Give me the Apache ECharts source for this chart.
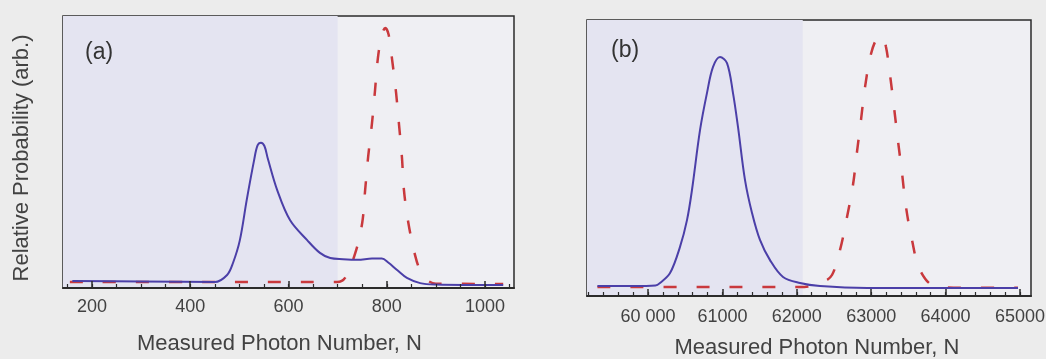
<!DOCTYPE html>
<html>
<head>
<meta charset="utf-8">
<script src="https://cdn.jsdelivr.net/npm/echarts@6/dist/echarts.min.js"></script>
<style>
  html, body { margin: 0; padding: 0; background: #ececec; }
  #chart { width: 1046px; height: 359px; }
</style>
</head>
<body>
<div id="chart"></div>
<script>
// Panel (a): photon-number distributions, N up to ~1000
const aBlueN = [160, 300, 450, 475, 487, 501, 515, 530, 537, 544, 551, 558, 577, 603, 638, 664, 685, 711, 741, 770, 790, 803, 821, 841, 868, 900, 1037];
const aBlueP = [2.6, 2.4, 2.2, 4.8, 9.2, 17.6, 32.4, 47, 52.4, 53.4, 52.2, 47.5, 36, 25, 17.6, 12.9, 11.0, 10.6, 10.4, 10.8, 10.8, 9.4, 6.6, 3.7, 1.8, 1.3, 1.1];
const aRedN = [155, 400, 699, 715, 736, 750, 756, 762, 770, 776, 782, 790, 797, 804, 811, 819, 825, 831, 835, 844, 858, 870, 882, 900, 1037];
const aRedP = [2.2, 2.2, 2.2, 3.7, 12.9, 23.9, 36, 48, 60.7, 72.4, 84.6, 93, 95.6, 93, 83.8, 71.7, 60, 47.8, 36, 23.9, 11.8, 5.5, 2.9, 1.6, 1.5];

// Panel (b): photon-number distributions around N ~ 60 000
const bBlueN = [59320, 59800, 60100, 60161, 60296, 60430, 60524, 60591, 60699, 60793, 60874, 60968, 61062, 61142, 61210, 61304, 61398, 61505, 61640, 61815, 62043, 62312, 62944, 64000, 64973];
const bBlueP = [3.6, 3.6, 3.8, 4.7, 8.3, 17.8, 27.5, 38.4, 60.1, 73.6, 83.0, 86.6, 84.4, 73.6, 61.2, 42.0, 30.1, 20.3, 13.0, 6.9, 4.7, 3.6, 2.9, 2.9, 2.9];
const bRedN = [59320, 60500, 62100, 62352, 62473, 62581, 62675, 62755, 62809, 62863, 62917, 62997, 63080, 63145, 63199, 63253, 63306, 63360, 63414, 63468, 63548, 63656, 63858, 64300, 64973];
const bRedP = [3.3, 3.3, 3.3, 5.1, 7.6, 16.7, 28.6, 40.2, 52.2, 63.8, 75.7, 87.7, 93.5, 94.2, 90.2, 80.1, 68.5, 56.2, 44.6, 32.2, 20.3, 9.4, 3.6, 3.0, 3.0];

// Axis ranges, tick positions and tick labels
const aRange = [141, 1059];
const aMinorTicks = [150, 200, 250, 300, 350, 400, 450, 500, 550, 600, 650, 700, 750, 800, 850, 900, 950, 1000, 1050];
const aMajorTicks = [200, 400, 600, 800, 1000];
const aTickLabels = ['200', '400', '600', '800', '1000'];
const aShadeEnd = 700;

const bRange = [59180, 65148];
const bMinorTicks = [59200, 59400, 59600, 59800, 60000, 60200, 60400, 60600, 60800, 61000, 61200, 61400, 61600, 61800, 62000, 62200, 62400, 62600, 62800, 63000, 63200, 63400, 63600, 63800, 64000, 64200, 64400, 64600, 64800, 65000];
const bMajorTicks = [60000, 61000, 62000, 63000, 64000, 65000];
const bTickLabels = ['60 000', '61000', '62000', '63000', '64000', '65000'];
const bShadeEnd = 62080;

const xTitle = 'Measured Photon Number, N';
const yTitle = 'Relative Probability (arb.)';

const FONT = '"Liberation Sans", Arial, sans-serif';
const TEXT = '#424242';
const FRAME = '#2b2b2b';
const BLUE = '#4b3fa8';
const RED = '#c9393d';
const SHADE = '#e4e4f1';
const PLOT_BG = '#efeff3';

const zip = (xs, ys) => xs.map((x, i) => [x, ys[i]]);

function panelAxes(gridIndex, range, minor, major, labels, labelMargin, titleGap, titlePad) {
  const lookup = {};
  major.forEach((v, i) => { lookup[v] = labels[i]; });
  return [
    {
      // main axis: major ticks, labels, title
      type: 'value', gridIndex, min: range[0], max: range[1], z: 10,
      axisLine: { show: true, lineStyle: { color: FRAME, width: 2 } },
      axisTick: { show: true, inside: true, length: 7, customValues: major, lineStyle: { color: FRAME, width: 1.5 } },
      axisLabel: { show: true, customValues: major, margin: labelMargin, color: TEXT, fontSize: 18, fontFamily: FONT,
                   formatter: v => lookup[v] },
      splitLine: { show: false },
      name: xTitle, nameLocation: 'middle', nameGap: titleGap,
      nameTextStyle: { color: TEXT, fontSize: 22, fontFamily: FONT, padding: titlePad }
    },
    {
      // companion axis for the short minor ticks
      type: 'value', gridIndex, min: range[0], max: range[1], position: 'bottom', z: 10,
      axisLine: { show: false },
      axisTick: { show: true, inside: true, length: 4, customValues: minor, lineStyle: { color: FRAME, width: 1.2 } },
      axisLabel: { show: false },
      splitLine: { show: false }
    }
  ];
}

const chart = echarts.init(document.getElementById('chart'), null, { renderer: 'canvas' });

const gridCommon = { show: true, backgroundColor: PLOT_BG, borderColor: FRAME, borderWidth: 1.5, outerBoundsMode: 'none' };

function shadeSeries(xIdx, yIdx, from, to) {
  return {
    type: 'line', xAxisIndex: xIdx, yAxisIndex: yIdx, data: [], z: 1, silent: true,
    markArea: { silent: true, itemStyle: { color: SHADE }, data: [[{ xAxis: from }, { xAxis: to }]] }
  };
}

function curve(xIdx, yIdx, data, color, width, dashed) {
  return {
    type: 'line', xAxisIndex: xIdx, yAxisIndex: yIdx, data, smooth: 0.35, symbol: 'none', z: dashed ? 3 : 4,
    lineStyle: { color, width, type: dashed ? [13, 20] : 'solid', cap: 'butt' }, silent: true
  };
}

chart.setOption({
  animation: false,
  backgroundColor: '#ececec',
  title: [
    { text: '(a)', left: 80, top: 36, textStyle: { color: '#333', fontSize: 23, fontWeight: 'normal', fontFamily: FONT } },
    { text: '(b)', left: 606, top: 34, textStyle: { color: '#333', fontSize: 23, fontWeight: 'normal', fontFamily: FONT } }
  ],
  grid: [
    Object.assign({ left: 63, top: 16, width: 451, height: 272 }, gridCommon),
    Object.assign({ left: 587, top: 20, width: 444, height: 276 }, gridCommon)
  ],
  xAxis: [
    ...panelAxes(0, aRange, aMinorTicks, aMajorTicks, aTickLabels, 10, 45, [0, 18, 0, 0]),
    ...panelAxes(1, bRange, bMinorTicks, bMajorTicks, bTickLabels, 12, 41, [0, 0, 0, 16])
  ],
  yAxis: [
    {
      type: 'value', gridIndex: 0, min: 0, max: 100,
      axisLine: { show: false }, axisTick: { show: false }, axisLabel: { show: false }, splitLine: { show: false },
      name: yTitle, nameLocation: 'middle', nameRotate: 90, nameGap: 30,
      nameTextStyle: { color: TEXT, fontSize: 22, fontFamily: FONT, padding: [0, 12, 0, 0] }
    },
    {
      type: 'value', gridIndex: 1, min: 0, max: 100,
      axisLine: { show: false }, axisTick: { show: false }, axisLabel: { show: false }, splitLine: { show: false }
    }
  ],
  series: [
    shadeSeries(0, 0, aRange[0], aShadeEnd),
    curve(0, 0, zip(aRedN, aRedP), RED, 2.5, true),
    curve(0, 0, zip(aBlueN, aBlueP), BLUE, 2, false),
    shadeSeries(2, 1, bRange[0], bShadeEnd),
    curve(2, 1, zip(bRedN, bRedP), RED, 2.5, true),
    curve(2, 1, zip(bBlueN, bBlueP), BLUE, 2, false)
  ]
});
</script>
</body>
</html>
